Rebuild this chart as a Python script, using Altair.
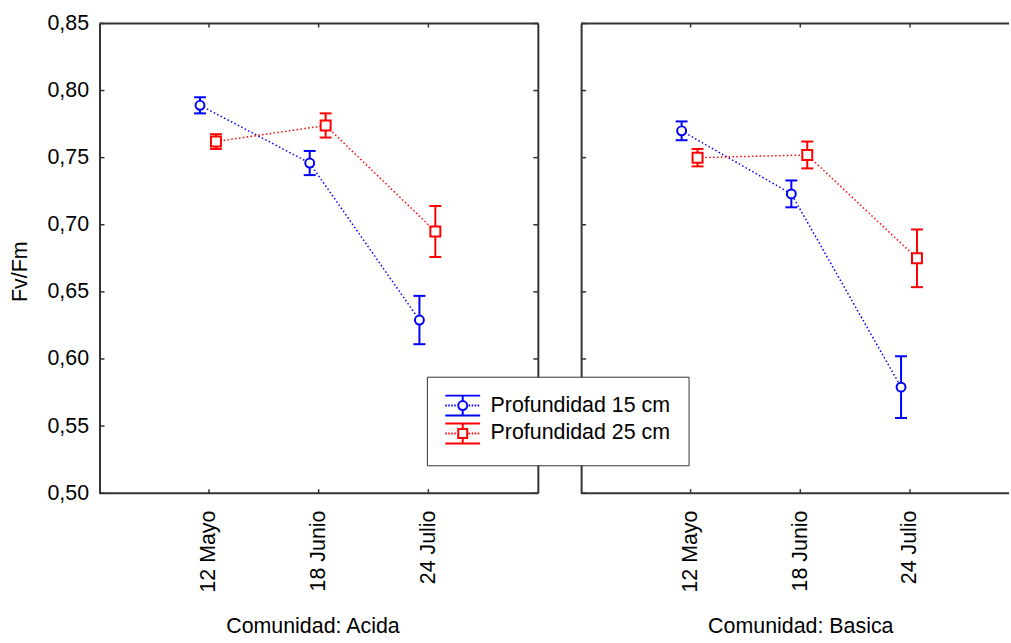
import altair as alt
import pandas as pd

# Sampling dates and depth series
fechas = ["12 Mayo", "18 Junio", "24 Julio"]
series = ["Profundidad 15 cm", "Profundidad 25 cm"]
colores = ["#0000ff", "#ff0000"]

# Fv/Fm means and error half-widths per community and depth
acida_15 = [0.789, 0.746, 0.629]
acida_15_err = [0.006, 0.009, 0.018]
acida_25 = [0.762, 0.774, 0.695]
acida_25_err = [0.0055, 0.009, 0.019]

basica_15 = [0.770, 0.723, 0.579]
basica_15_err = [0.007, 0.010, 0.023]
basica_25 = [0.750, 0.752, 0.675]
basica_25_err = [0.0065, 0.010, 0.0215]

y_ticks = [0.50, 0.55, 0.60, 0.65, 0.70, 0.75, 0.80, 0.85]

FONT = "Liberation Sans"
FS = 21.5
W_LEFT, W_RIGHT, H = 441, 430, 472
FRAME = "#333333"


def tabla(comunidad, v15, e15, v25, e25):
    filas = []
    for serie, vals, errs in ((series[0], v15, e15), (series[1], v25, e25)):
        for f, v, e in zip(fechas, vals, errs):
            filas.append({"comunidad": comunidad, "serie": serie, "fecha": f,
                          "fv": v, "lo": v - e, "hi": v + e})
    return pd.DataFrame(filas)


datos = {
    "Acida": tabla("Acida", acida_15, acida_15_err, acida_25, acida_25_err),
    "Basica": tabla("Basica", basica_15, basica_15_err, basica_25, basica_25_err),
}
ticks_y = pd.DataFrame({"fv": y_ticks})
ticks_x = pd.DataFrame({"fecha": fechas})
marco = pd.DataFrame({"borde": ["linea"]})

color_scale = alt.Scale(domain=series, range=colores)

# Legend glyphs: error bar with caps, dotted connector and the marker
_base = ("M-1.75,-1H1.75M-1.75,1H1.75M0,-1V-0.45M0,0.45V1"
         "M-1.75,0h0.15M-1.45,0h0.15M-1.15,0h0.15M-0.85,0h0.15"
         "M0.6,0h0.15M0.9,0h0.15M1.2,0h0.15M1.5,0h0.15")
glifo_circulo = _base + "M-0.45,0A0.45,0.45,0,1,0,0.45,0A0.45,0.45,0,1,0,-0.45,0Z"
glifo_cuadrado = _base + "M-0.45,-0.45H0.45V0.45H-0.45Z"
shape_scale = alt.Scale(domain=series, range=[glifo_circulo, glifo_cuadrado])

# horizontal cap of an error bar, drawn as a point glyph
CAP = "M-1,0H1"

PAD_L, PAD_T = 8, 10

leyenda = alt.Legend(
    title=None, orient="none", legendX=329, legendY=355,
    direction="vertical", fillColor="white", strokeColor=FRAME, padding=18,
    labelFont=FONT, labelFontSize=FS, labelColor="black", labelOffset=17,
    labelLimit=400, symbolSize=400, symbolStrokeWidth=2, symbolOffset=7,
    rowPadding=0, zindex=1,
)


def panel(comunidad, titulo, ancho, eje_y, borde_derecho, titulo_x=None):
    df = datos[comunidad]
    xscale = alt.Scale(type="point", range=[110, 330.5], padding=0)
    xaxis_kw = dict(
        title=titulo, labelAngle=270, labelFont=FONT, labelFontSize=FS,
        labelColor="black", ticks=False, labelPadding=17, domain=False,
        titleFont=FONT, titleFontSize=FS,
        titleFontWeight="normal", titleColor="black", titlePadding=24,
        grid=False,
    )
    if titulo_x is not None:
        xaxis_kw["titleX"] = titulo_x
    xaxis = alt.Axis(**xaxis_kw)
    yscale = alt.Scale(domain=[0.5, 0.85], nice=False, zero=False)
    yaxis = alt.Axis(
        title="Fv/Fm" if eje_y else None, values=y_ticks, labels=eje_y,
        labelExpr="replace(format(datum.value, '.2f'), '.', ',')",
        labelFont=FONT, labelFontSize=FS, labelColor="black", ticks=False,
        labelPadding=11, domain=True, domainColor=FRAME, domainWidth=2,
        titleFont=FONT, titleFontSize=FS, titleFontWeight="normal",
        titleColor="black", titlePadding=16, titleY=249, grid=False,
    )

    def xe():
        return alt.X("fecha:N", sort=fechas, scale=xscale, axis=xaxis)

    def ye(campo):
        return alt.Y(f"{campo}:Q", scale=yscale, axis=yaxis)

    color = alt.Color("serie:N", scale=color_scale, legend=leyenda)
    capas = []

    for serie, forma, tam, desp in ((series[0], "circle", 80, -9),
                                    (series[1], "square", 100, 7)):
        base = alt.Chart(df).transform_filter(alt.datum.serie == serie)
        capas.append(base.mark_line(strokeDash=[1.5, 2.4], strokeWidth=1.5,
                                    xOffset=desp)
                     .encode(x=xe(), y=ye("fv"), color=color))
        capas.append(base.mark_rule(strokeWidth=2, xOffset=desp)
                     .encode(x=xe(), y=ye("lo"), y2="hi:Q", color=color))
        for campo in ("lo", "hi"):
            capas.append(base.mark_point(shape=CAP, size=144, strokeWidth=2,
                                         filled=False, opacity=1, xOffset=desp)
                         .encode(x=xe(), y=ye(campo), color=color))
        capas.append(base.mark_point(shape=forma, size=tam, strokeWidth=2,
                                     filled=False, fill="white", opacity=1,
                                     xOffset=desp)
                     .encode(x=xe(), y=ye("fv"), color=color))

    # frame: top and bottom edges (left edge comes from the y axis domain)
    capas.append(alt.Chart(marco).mark_rule(color=FRAME, strokeWidth=2)
                 .encode(x=alt.value(0), x2=alt.value(ancho), y=alt.value(0)))
    capas.append(alt.Chart(marco).mark_rule(color=FRAME, strokeWidth=2)
                 .encode(x=alt.value(0), x2=alt.value(ancho), y=alt.value(H)))
    if borde_derecho:
        capas.append(alt.Chart(marco).mark_rule(color=FRAME, strokeWidth=2)
                     .encode(x=alt.value(ancho), y=alt.value(0), y2=alt.value(H)))

    # inward ticks
    capas.append(alt.Chart(ticks_y).mark_rule(color=FRAME, strokeWidth=1.5)
                 .encode(y=ye("fv"), x=alt.value(0), x2=alt.value(5)))
    if borde_derecho:
        capas.append(alt.Chart(ticks_y).mark_rule(color=FRAME, strokeWidth=1.5)
                     .encode(y=ye("fv"), x=alt.value(ancho - 5), x2=alt.value(ancho)))
    capas.append(alt.Chart(ticks_x).mark_rule(color=FRAME, strokeWidth=1.5)
                 .encode(x=xe(), y=alt.value(0), y2=alt.value(4)))
    capas.append(alt.Chart(ticks_x).mark_rule(color=FRAME, strokeWidth=1.5)
                 .encode(x=xe(), y=alt.value(H - 4), y2=alt.value(H)))

    if eje_y:
        # carries the shape half of the shared legend
        capas.append(alt.Chart(df).transform_filter("false")
                     .mark_point(filled=False, strokeWidth=2)
                     .encode(x=xe(), y=ye("fv"), color=color,
                             shape=alt.Shape("serie:N", scale=shape_scale, legend=leyenda)))

    return alt.layer(*capas).properties(width=ancho, height=H)


izq = panel("Acida", "Comunidad: Acida", W_LEFT, True, True, titulo_x=214)
der = panel("Basica", "Comunidad: Basica", W_RIGHT, False, False)

chart = (
    alt.hconcat(izq, der, spacing=39)
    .properties(padding={"left": PAD_L, "top": PAD_T, "right": 0, "bottom": 0},
                background="white")
    .configure_view(stroke="transparent")
)

chart.save("out.html", embed_options={"renderer": "svg", "actions": False})
